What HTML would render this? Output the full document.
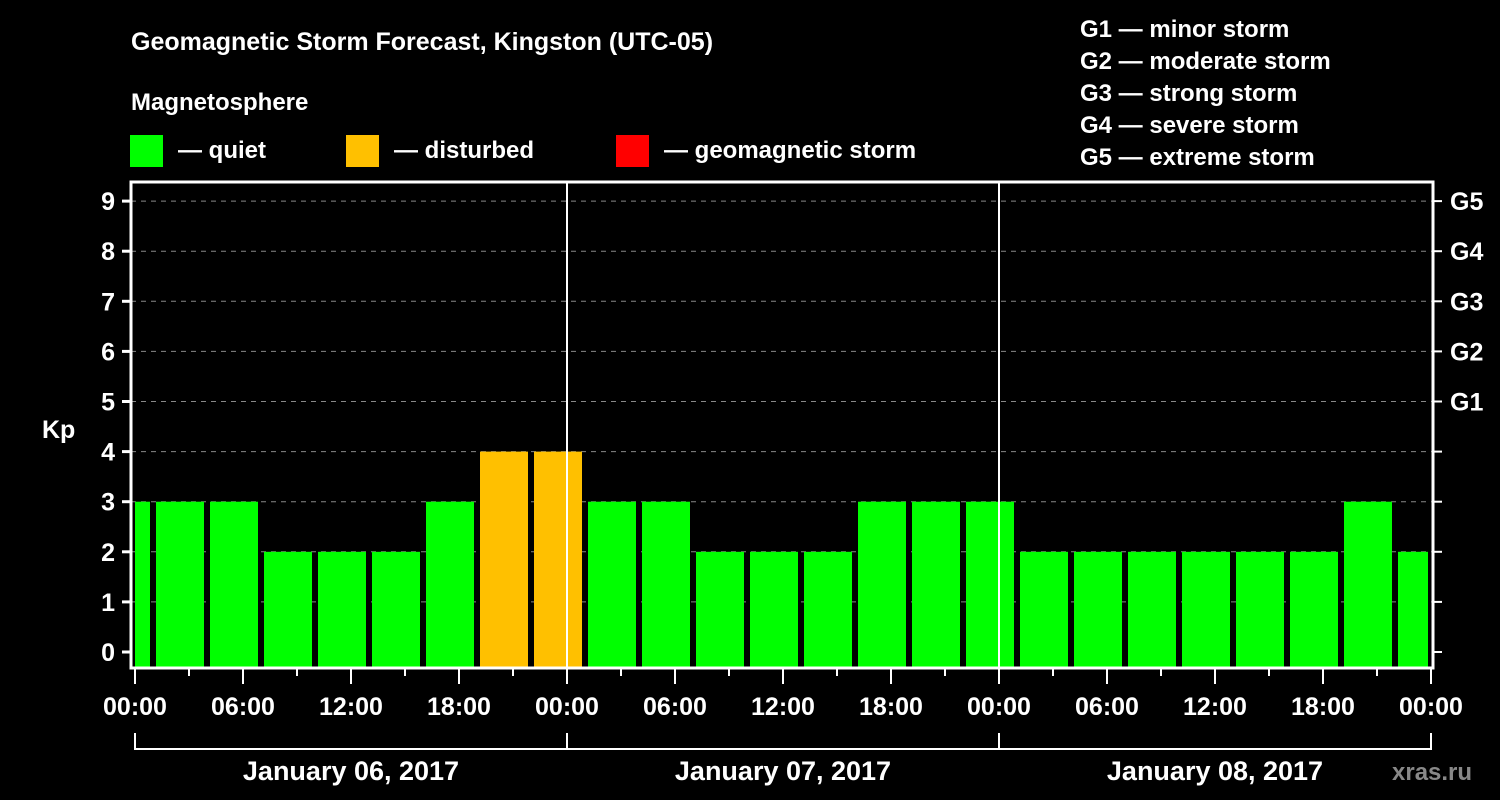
<!DOCTYPE html>
<html><head><meta charset="utf-8"><style>
html,body{margin:0;padding:0;background:#000;width:1500px;height:800px;overflow:hidden}
svg text{font-family:"Liberation Sans",Arial,sans-serif;font-weight:bold;fill:#fff}
</style></head><body>
<svg id="chart" width="1500" height="800" xmlns="http://www.w3.org/2000/svg">
<rect width="1500" height="800" fill="#000"/>
<text x="131" y="50" font-size="25">Geomagnetic Storm Forecast, Kingston (UTC-05)</text>
<text x="131" y="110" font-size="24">Magnetosphere</text>
<g><rect x="130" y="135" width="33" height="32" fill="#00ff00"/><text x="178" y="158" font-size="24">— quiet</text></g>
<g><rect x="346" y="135" width="33" height="32" fill="#ffc000"/><text x="394" y="158" font-size="24">— disturbed</text></g>
<g><rect x="616" y="135" width="33" height="32" fill="#ff0000"/><text x="664" y="158" font-size="24">— geomagnetic storm</text></g>
<g font-size="24">
<text x="1080" y="37">G1 — minor storm</text>
<text x="1080" y="69">G2 — moderate storm</text>
<text x="1080" y="101">G3 — strong storm</text>
<text x="1080" y="133">G4 — severe storm</text>
<text x="1080" y="165">G5 — extreme storm</text>
</g>
<text x="42" y="438" font-size="25">Kp</text>
<text x="1392" y="780" font-size="24" style="fill:#888">xras.ru</text>
<g id="grid"></g><g id="bars"></g><g id="axes"></g>
</svg>
<script>
const kpValues=[3,3,3,2,2,2,3,4,4,3,3,2,2,2,3,3,3,2,2,2,2,2,2,3,2];
const barStartHours=[-2,1,4,7,10,13,16,19,22,25,28,31,34,37,40,43,46,49,52,55,58,61,64,67,70];
const yTicks=[0,1,2,3,4,5,6,7,8,9];
const gLabels=["G1","G2","G3","G4","G5"];
const gLevels=[5,6,7,8,9];
const xTickLabels=["00:00","06:00","12:00","18:00","00:00","06:00","12:00","18:00","00:00","06:00","12:00","18:00","00:00"];
const dayLabels=["January 06, 2017","January 07, 2017","January 08, 2017"];
const NS="http://www.w3.org/2000/svg";
const X0=135,PX=18,TOTAL=72,L=131,R=1433,T=182,B=668;
const x=h=>X0+h*PX;
const y=v=>652-v*50.1;
function mk(tag,attrs,parent,txt){const e=document.createElementNS(NS,tag);for(const k in attrs)e.setAttribute(k,attrs[k]);if(txt!==undefined)e.textContent=txt;document.getElementById(parent).appendChild(e);return e;}
yTicks.forEach(v=>{if(v>0){const g=mk('line',{x1:L,x2:R,y1:y(v),y2:y(v),stroke:'#888','stroke-dasharray':'5,5','stroke-width':1},'grid');

}});
const colorFor=v=>v>=5?'#ff0000':(v>=4?'#ffc000':'#00ff00');
kpValues.forEach((v,i)=>{
 let s=Math.max(0,barStartHours[i]),e=Math.min(TOTAL,barStartHours[i]+3);
 let x1=x(s)+(barStartHours[i]>=0?3:0),x2=x(e)-3;
 const r=mk('rect',{x:x1,y:y(v),width:x2-x1,height:B-y(v),fill:colorFor(v)},'bars');
 
 
});
[24,48].forEach(h=>{const l=mk('line',{x1:x(h),x2:x(h),y1:T,y2:B,stroke:'#fff','stroke-width':2},'axes');

});
const frame=mk('rect',{x:L,y:T,width:R-L,height:B-T,fill:'none',stroke:'#fff','stroke-width':3},'axes');


yTicks.forEach(v=>{
 mk('line',{x1:L-9,x2:L,y1:y(v),y2:y(v),stroke:'#fff','stroke-width':3},'axes');
 mk('line',{x1:R,x2:R+9,y1:y(v),y2:y(v),stroke:'#fff','stroke-width':2},'axes');
 const t=mk('text',{x:115,y:y(v)+9,'font-size':25,'text-anchor':'end'},'axes',String(v));
 
 
});
gLabels.forEach((g,i)=>{const t=mk('text',{x:1450,y:y(gLevels[i])+9,'font-size':25},'axes',g);

});
for(let h=0;h<=TOTAL;h+=3){const major=h%6===0;mk('line',{x1:x(h),x2:x(h),y1:B,y2:B+(major?16:8),stroke:'#fff','stroke-width':2},'axes');}
xTickLabels.forEach((lab,i)=>{const t=mk('text',{x:x(i*6),y:715,'font-size':25,'text-anchor':'middle'},'axes',lab);

});
const br=mk('line',{x1:x(0),x2:x(TOTAL),y1:749,y2:749,stroke:'#fff','stroke-width':2},'axes');


[0,24,48,72].forEach(h=>mk('line',{x1:x(h),x2:x(h),y1:733,y2:750,stroke:'#fff','stroke-width':2},'axes'));
dayLabels.forEach((d,i)=>{const t=mk('text',{x:x(i*24+12),y:780,'font-size':27,'text-anchor':'middle'},'axes',d);

});
</script>
</body></html>
